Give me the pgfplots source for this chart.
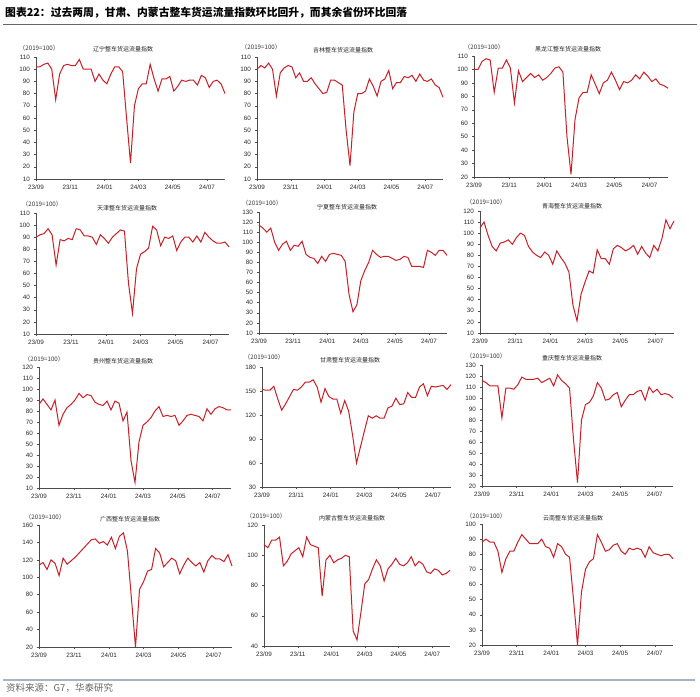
\documentclass[border=0pt]{standalone}
\usepackage{pgfplots}
\pgfplotsset{compat=1.18}
\usepackage{pgfplotstable}
\usepackage{fontspec}
\setmainfont{Liberation Sans}
\newfontfamily\cjk{Noto Sans CJK SC}
\definecolor{linered}{RGB}{200,30,40}

\pgfplotstableread[row sep=\\]{y\\102\\102\\104\\105\\100\\75\\96\\103\\104\\103\\103\\108\\100\\100\\100\\90\\96\\91\\88\\96\\102\\102\\98\\60\\23\\70\\84\\88\\88\\104\\92\\82\\92\\92\\94\\82\\86\\91\\90\\91\\91\\87\\95\\93\\85\\90\\91\\88\\80\\}\pA
\pgfplotstableread[row sep=\\]{y\\100\\103\\101\\105\\100\\78\\97\\101\\103\\102\\93\\97\\90\\90\\93\\88\\84\\80\\81\\91\\91\\89\\87\\50\\21\\65\\80\\80\\82\\92\\86\\78\\90\\92\\99\\84\\89\\89\\94\\93\\95\\90\\96\\91\\90\\92\\87\\85\\77\\}\pB
\pgfplotstableread[row sep=\\]{y\\100\\100\\106\\108\\107\\83\\101\\101\\107\\101\\75\\99\\91\\94\\97\\94\\96\\92\\94\\97\\101\\102\\98\\50\\22\\63\\79\\83\\83\\96\\89\\82\\90\\92\\98\\92\\85\\91\\90\\92\\96\\93\\98\\95\\91\\93\\89\\88\\86\\}\pC
\pgfplotstableread[row sep=\\]{y\\90\\92\\93\\97\\92\\67\\88\\87\\89\\88\\97\\96\\91\\91\\90\\84\\92\\89\\85\\90\\93\\96\\95\\52\\27\\64\\76\\78\\81\\99\\96\\83\\90\\89\\91\\79\\86\\90\\90\\86\\91\\86\\94\\90\\87\\85\\85\\86\\82\\}\pD
\pgfplotstableread[row sep=\\]{y\\117\\114\\110\\114\\100\\92\\98\\101\\92\\97\\96\\101\\88\\85\\84\\79\\86\\81\\88\\89\\88\\87\\81\\48\\31\\38\\62\\72\\80\\92\\88\\85\\86\\86\\84\\82\\83\\86\\85\\76\\76\\76\\75\\92\\90\\87\\92\\92\\87\\}\pE
\pgfplotstableread[row sep=\\]{y\\105\\110\\98\\88\\84\\91\\92\\94\\90\\96\\100\\98\\88\\83\\80\\78\\83\\80\\72\\84\\78\\73\\65\\35\\21\\45\\56\\66\\64\\85\\77\\77\\72\\86\\89\\87\\84\\86\\89\\81\\88\\82\\78\\89\\84\\95\\112\\104\\111\\}\pF
\pgfplotstableread[row sep=\\]{y\\86\\91\\86\\81\\90\\67\\77\\83\\86\\90\\96\\92\\95\\94\\88\\86\\85\\89\\81\\89\\87\\71\\79\\35\\15\\52\\67\\70\\74\\80\\84\\75\\76\\75\\76\\67\\71\\76\\77\\76\\75\\71\\82\\77\\82\\84\\83\\81\\81\\}\pG
\pgfplotstableread[row sep=\\]{y\\152\\151\\151\\156\\140\\126\\134\\143\\152\\151\\155\\161\\161\\164\\155\\136\\153\\143\\140\\140\\122\\138\\125\\95\\60\\80\\100\\119\\116\\119\\116\\116\\129\\131\\141\\133\\134\\148\\142\\142\\155\\159\\144\\156\\155\\156\\157\\152\\158\\}\pH
\pgfplotstableread[row sep=\\]{y\\116\\114\\111\\111\\111\\82\\109\\109\\108\\112\\119\\117\\117\\117\\118\\114\\116\\118\\111\\121\\116\\113\\109\\62\\23\\80\\94\\96\\102\\114\\109\\98\\99\\103\\105\\92\\98\\103\\103\\106\\107\\98\\110\\105\\108\\103\\104\\103\\100\\}\pI
\pgfplotstableread[row sep=\\]{y\\114\\117\\109\\120\\116\\102\\122\\115\\119\\123\\128\\133\\138\\143\\144\\139\\141\\137\\146\\133\\147\\151\\130\\75\\20\\86\\95\\107\\109\\133\\128\\112\\117\\122\\119\\104\\114\\122\\117\\113\\117\\106\\119\\125\\121\\121\\118\\126\\113\\}\pJ
\pgfplotstableread[row sep=\\]{y\\107\\105\\110\\110\\112\\93\\96\\101\\103\\105\\99\\112\\107\\106\\105\\73\\97\\100\\95\\97\\98\\100\\99\\50\\44\\62\\81\\84\\91\\97\\93\\83\\91\\94\\98\\94\\93\\95\\99\\93\\96\\94\\89\\88\\91\\90\\87\\88\\90\\}\pK
\pgfplotstableread[row sep=\\]{y\\88\\90\\88\\88\\82\\68\\77\\82\\82\\88\\93\\90\\87\\87\\87\\90\\85\\84\\78\\87\\85\\80\\78\\50\\20\\55\\70\\75\\77\\93\\88\\82\\83\\86\\87\\82\\80\\84\\83\\84\\83\\78\\85\\81\\80\\79\\80\\80\\77\\}\pL

\pgfplotsset{
  panel/.style={
    scale only axis, anchor=south west,
    xmin=0, xmax=48,
    xtick={0,8.714,17.43,26,34.71,43.43},
    xticklabels={23/09,23/11,24/01,24/03,24/05,24/07},
    axis x line*=bottom, axis y line*=left,
    axis line style={black!70, line width=0.6pt},
    tick style={black!70, line width=0.5pt},
    major tick length=2pt, tick align=outside,
    tick label style={font=\fontsize{6.3}{7}\selectfont, text=black!85},
    /pgf/number format/assume math mode=true,
    yticklabel style={xshift=-0.5pt},
    enlargelimits=false, clip=false,
  },
  redline/.style={color=linered, line width=1pt, mark=none},
}
\newcommand{\lab}[3]{\node[anchor=west, font=\cjk\fontsize{6.2}{7}\selectfont, text=black!80, inner sep=0pt] at (#1pt,#2pt) {（2019=100）};}
\newcommand{\ttl}[3]{\node[font=\cjk\fontsize{6}{7}\selectfont, text=black!85, inner sep=0pt] at (#1pt,#2pt) {#3};}

\begin{document}
\begin{tikzpicture}
\useasboundingbox (0,0) rectangle (700pt,696pt);
\node[anchor=west, font=\cjk\bfseries\fontsize{10.8}{12}\selectfont, inner sep=0pt] at (5pt,683pt) {图表22：过去两周，甘肃、内蒙古整车货运流量指数环比回升，而其余省份环比回落};
\draw[black!60, line width=0.6pt] (3pt,672pt) -- (697pt,672pt);
\draw[color={rgb,255:red,170;green,180;blue,190}, line width=1.5pt] (3pt,16pt) -- (695pt,16pt);
\node[anchor=west, font=\cjk\fontsize{9.5}{10}\selectfont, text=black!60, inner sep=0pt] at (6pt,8pt) {资料来源：G7，华泰研究};

% Row 1
\begin{axis}[panel, at={(36pt,517pt)}, width=189pt, height=122pt, ymin=10, ymax=110, ytick={10,20,...,110}]
\addplot[redline] table[x expr=\coordindex, y=y] {\pA};
\end{axis}
\lab{19}{648}{} \ttl{123}{647}{辽宁整车货运流量指数}
\begin{axis}[panel, at={(257pt,517pt)}, width=186pt, height=122pt, ymin=10, ymax=110, ytick={10,20,...,110}]
\addplot[redline] table[x expr=\coordindex, y=y] {\pB};
\end{axis}
\lab{241}{649}{} \ttl{343}{646}{吉林整车货运流量指数}
\begin{axis}[panel, at={(474pt,519pt)}, width=194pt, height=121pt, ymin=20, ymax=110, ytick={20,30,...,110}]
\addplot[redline] table[x expr=\coordindex, y=y] {\pC};
\end{axis}
\lab{464}{649}{} \ttl{568}{647}{黑龙江整车货运流量指数}

% Row 2
\begin{axis}[panel, at={(36pt,362pt)}, width=193pt, height=121pt, ymin=10, ymax=110, ytick={10,20,...,110}]
\addplot[redline] table[x expr=\coordindex, y=y] {\pD};
\end{axis}
\lab{22}{492}{} \ttl{127}{488}{天津整车货运流量指数}
\begin{axis}[panel, at={(259pt,363pt)}, width=188pt, height=121pt, ymin=10, ymax=130, ytick={10,20,...,130}]
\addplot[redline] table[x expr=\coordindex, y=y] {\pE};
\end{axis}
\lab{242}{493}{} \ttl{347}{489}{宁夏整车货运流量指数}
\begin{axis}[panel, at={(480pt,363pt)}, width=194pt, height=122pt, ymin=10, ymax=120, ytick={10,20,...,120}]
\addplot[redline] table[x expr=\coordindex, y=y] {\pF};
\end{axis}
\lab{466}{494}{} \ttl{572}{490}{青海整车货运流量指数}

% Row 3
\begin{axis}[panel, at={(39pt,208pt)}, width=192pt, height=121pt, ymin=10, ymax=120, ytick={10,20,...,120}]
\addplot[redline] table[x expr=\coordindex, y=y] {\pG};
\end{axis}
\lab{24}{337}{} \ttl{123}{335}{贵州整车货运流量指数}
\begin{axis}[panel, at={(262pt,209pt)}, width=189pt, height=120pt, ymin=30, ymax=180, ytick={30,60,...,180}]
\addplot[redline] table[x expr=\coordindex, y=y] {\pH};
\end{axis}
\lab{244}{339}{} \ttl{350}{336}{甘肃整车货运流量指数}
\begin{axis}[panel, at={(482pt,210pt)}, width=191pt, height=121pt, ymin=20, ymax=130, ytick={20,30,...,130}]
\addplot[redline] table[x expr=\coordindex, y=y] {\pI};
\end{axis}
\lab{466}{340}{} \ttl{572}{338}{重庆整车货运流量指数}

% Row 4
\begin{axis}[panel, at={(39pt,49pt)}, width=193pt, height=122pt, ymin=20, ymax=160, ytick={20,40,...,160}]
\addplot[redline] table[x expr=\coordindex, y=y] {\pJ};
\end{axis}
\lab{25}{179}{} \ttl{130}{177}{广西整车货运流量指数}
\begin{axis}[panel, at={(264pt,50pt)}, width=186pt, height=121pt, ymin=40, ymax=120, ytick={40,60,...,120}]
\addplot[redline] table[x expr=\coordindex, y=y] {\pK};
\end{axis}
\lab{246}{180}{} \ttl{352}{178}{内蒙古整车货运流量指数}
\begin{axis}[panel, at={(482pt,51pt)}, width=191pt, height=121pt, ymin=20, ymax=100, ytick={20,30,...,100}]
\addplot[redline] table[x expr=\coordindex, y=y] {\pL};
\end{axis}
\lab{466}{180}{} \ttl{573}{178}{云南整车货运流量指数}
\end{tikzpicture}
\end{document}
